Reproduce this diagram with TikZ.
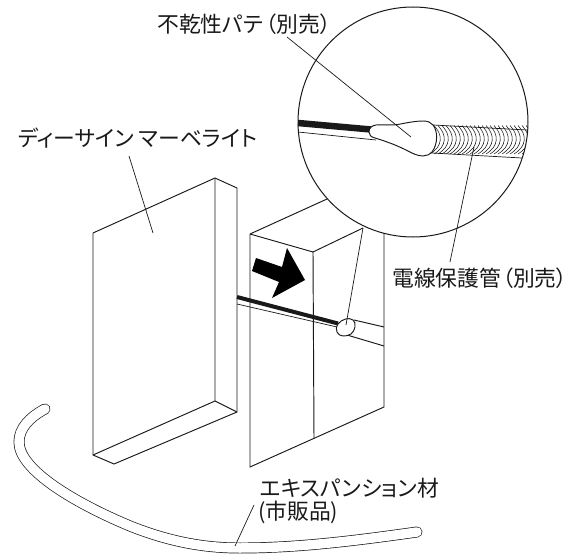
\documentclass[tikz,border=0pt]{standalone}
\usepackage{fontspec}
\setmainfont{Noto Sans CJK JP}[RawFeature=+palt]
\tikzset{
 edge/.style={draw=black!90,line width=0.95pt,line join=miter},
 thin edge/.style={draw=black!90,line width=0.7pt},
 lab/.style={inner sep=0pt,anchor=west,font=\fontsize{21.8pt}{22pt}\selectfont,text=black!90},
}
\begin{document}
\begin{tikzpicture}[x=1pt,y=-1pt]
\useasboundingbox (0,0) rectangle (574,554);
% left panel
\draw[edge] (93,233) -- (215,178) -- (237,188) -- (237,412) -- (114,464) -- (93,455) -- cycle;
\draw[edge] (215,178) -- (215,401) -- (93,455);
\draw[edge] (215,401) -- (237,412);
% right block
\draw[edge] (250,234) -- (327,199);
\draw[edge] (250,234) -- (250,467) -- (384,407) -- (384,232);
\draw[edge] (250,234) -- (313,252) -- (314,438);
\draw[edge] (313,252) -- (363,228);
% cable
\draw[line width=4pt,black!90] (237,297) -- (338,323.5);
\draw[thin edge] (237,304) -- (337,327);
\draw[edge] (354,320) -- (384,327);
\draw[edge] (347,335) -- (384,346);
\draw[edge,fill=white] (338,324) .. controls (342,319) and (349,317) .. (353,320) .. controls (357,323) and (355,331) .. (351,334) .. controls (346,337) and (339,337) .. (337,332) .. controls (336,330) and (336,327) .. (338,324) -- cycle;
% arrow
\fill[black] (256,258) -- (282,267) -- (287,248) -- (305,280) -- (272,298) -- (279,282) -- (252,271) -- cycle;
% circle
\node[draw=black!90,line width=1pt,circle,minimum size=230pt,inner sep=0pt,fill=white] (lens) at (413,122) {};
\draw[line width=6.5pt,black!90] (298,123) -- (371,129.5);
\draw[thin edge] (298,132) -- (376,140);
\begin{scope}
\clip (413,122) circle (115pt);
\foreach \i in {0,...,24}{
 \draw[line width=0.55pt,black!90] ({434+\i*4.0},125.5) .. controls ({443+\i*4.0},135) and ({443+\i*4.0},146) .. ({430+\i*4.0},154);
}
\draw[thin edge] (433,125) -- (527,130);
\draw[thin edge] (432,153) -- (522,158);
\end{scope}
\draw[edge,fill=white] (369,132) .. controls (369,128) and (372,125.5) .. (376,125) .. controls (384,124.5) and (392,125.5) .. (398,124.5) .. controls (408,122.5) and (416,121) .. (423,121) .. controls (428,121) and (431,122.5) .. (433,125) .. controls (438,131) and (438,144) .. (432,152) .. controls (428,157) and (420,157) .. (412,153) .. controls (404,149) and (396,145) .. (387,142) .. controls (382,140) and (378,139) .. (375,138) .. controls (371,137) and (369,135) .. (369,132) -- cycle;
% leaders
\coordinate (a) at (287,37);
\coordinate (a2) at (411,137);
\draw[thin edge] (a) -- (a2);
\coordinate (b) at (474,147);
\coordinate (b2) at (450,262);
\draw[thin edge] (b) -- (b2);
\coordinate (c) at (363,228);
\coordinate (c2) at (346,325);
\draw[thin edge] (c) -- (c2);
\coordinate (d) at (129,156);
\coordinate (d2) at (153,233);
\draw[thin edge] (d) -- (d2);
% expansion material
\draw[draw=black!90,line width=0.7pt,double=white,double distance=9.5pt,line cap=round] (45,409) .. controls (30,417) and (19,428) .. (19,442) .. controls (19,470) and (75,503) .. (130,526) .. controls (170,542) and (205,548) .. (240,548) .. controls (300,548) and (360,540) .. (417,532);
\coordinate (e) at (254,505);
\coordinate (e2) at (235,546);
\draw[thin edge] (e) -- (e2);
% labels
\node[lab] (t1) at (157,24) {不乾性パテ\kern3pt{}（別売）};
\node[lab] (t2) at (18,138) {ディーサイン\kern5pt{}マーベライト};
\node[lab] (t3) at (392,278) {電線保護管\kern1pt{}（別売）};
\node[lab] (t4) at (260,488) {エキスパンション材};
\node[lab] (t5) at (258,512) {(市販品)};
\end{tikzpicture}
\end{document}
